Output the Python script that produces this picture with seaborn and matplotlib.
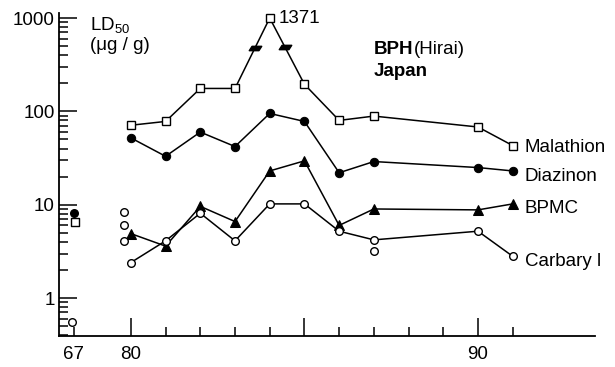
import numpy as np
import pandas as pd
import matplotlib
matplotlib.use("Agg")
import matplotlib.pyplot as plt
import seaborn as sns
from matplotlib.path import Path
from matplotlib.ticker import FixedLocator, LogLocator, NullFormatter

# ---------------- data (LD50, ug/g) ----------------
years = [80, 81, 82, 83, 84, 85, 86, 87, 90, 91]
malathion = [71, 78, 176, 176, 1371, 195, 80, 89, 68, 43]
diazinon = [52, 33, 60, 42, 95, 78, 22, 29, 25, 23]
bpmc = [4.9, 3.6, 9.6, 6.6, 23, 29.5, 6.0, 9.0, 8.8, 10.2]
carbaryl = [2.4, 4.1, 8.1, 4.1, 10.2, 10.2, 5.2, 4.2, 5.2, 2.8]

# 1967 single observations
y67_diazinon = [8.1]
y67_malathion = [6.6]
y67_carbaryl = [0.55]
# additional carbaryl observations
extra80_carbaryl = [8.4, 6.0, 4.1]
extra87_carbaryl = [3.2]

series_names = ["Malathion", "Diazinon", "BPMC", "Carbary l"]

# ---------------- layout constants ----------------
Y_CAP = 1000          # axis break: values above are drawn at the cap
POS_67 = 78.35        # compressed position of 1967 on the broken axis
OFF_80 = -0.2         # small side offset for the extra 1980 points

sns.set_style("white")
plt.rcParams["font.family"] = ["Liberation Sans", "DejaVu Sans"]
plt.rcParams["mathtext.default"] = "regular"
plt.rcParams["text.color"] = "black"
plt.rcParams["xtick.color"] = "black"
plt.rcParams["ytick.color"] = "black"
FS = 13.5

fig = plt.figure(figsize=(6.15, 3.67), dpi=100)
ax = fig.add_axes([59 / 615, 31 / 367, 536 / 615, 323 / 367])

mal_plot = np.minimum(malathion, Y_CAP)
lw = 1.1
ms = 5.5

sns.lineplot(x=years, y=mal_plot, ax=ax, color="black", lw=lw, marker="s",
             markersize=ms, markerfacecolor="white", markeredgecolor="black",
             markeredgewidth=1, zorder=3)
sns.lineplot(x=years, y=diazinon, ax=ax, color="black", lw=lw, marker="o",
             markersize=ms + 0.5, markerfacecolor="black", markeredgecolor="black",
             zorder=3)
sns.lineplot(x=years, y=bpmc, ax=ax, color="black", lw=lw, marker="^",
             markersize=ms + 1, markerfacecolor="black", markeredgecolor="black",
             zorder=3)
sns.lineplot(x=years, y=carbaryl, ax=ax, color="black", lw=lw, marker="o",
             markersize=ms, markerfacecolor="white", markeredgecolor="black",
             markeredgewidth=1, zorder=4)

# isolated points
sc = dict(ax=ax, s=30, linewidth=1, edgecolor="black", zorder=5)
sns.scatterplot(x=[POS_67], y=y67_diazinon, marker="o", color="black", **sc)
sns.scatterplot(x=[POS_67 + 0.03], y=y67_malathion, marker="s", color="white", **sc)
sns.scatterplot(x=[POS_67 - 0.05], y=y67_carbaryl, marker="o", color="white", **sc)
sns.scatterplot(x=[80 + OFF_80] * len(extra80_carbaryl), y=extra80_carbaryl,
                marker="o", color="white", **sc)
sns.scatterplot(x=[87] * len(extra87_carbaryl), y=extra87_carbaryl,
                marker="o", color="white", **sc)

# axis-break marks on the Malathion peak segments
brk = Path([(-1, -0.35), (0.55, -0.35), (1, 0.35), (-0.55, 0.35), (-1, -0.35)],
           [Path.MOVETO, Path.LINETO, Path.LINETO, Path.LINETO, Path.CLOSEPOLY])
ipk = int(np.argmax(malathion))
t = 0.57
for j in (ipk - 1, ipk + 1):
    xb = years[j] + t * (years[ipk] - years[j])
    yb = 10 ** (np.log10(mal_plot[j]) + t * (np.log10(mal_plot[ipk]) - np.log10(mal_plot[j])))
    ax.plot([xb], [yb], marker=brk, markersize=9, color="black", zorder=6)

ax.annotate(str(malathion[ipk]), xy=(years[ipk], mal_plot[ipk]), xytext=(6.5, 0),
            textcoords="offset points", ha="left", va="center", fontsize=FS)

# series labels
offs = [-1.5, -4, -3.5, -3.5]
for name, vals, dy in zip(series_names, [mal_plot, diazinon, bpmc, carbaryl], offs):
    ax.annotate(name, xy=(years[-1], vals[-1]), xytext=(8.5, dy),
                textcoords="offset points", ha="left", va="center", fontsize=FS)

# axes
ax.set_yscale("log")
ax.set_xlim(77.93, 93.37)
ax.set_ylim(0.392, 1132)
ax.yaxis.set_major_locator(FixedLocator([1, 10, 100, 1000]))
ax.set_yticklabels(["1", "10", "100", "1000"])
ax.yaxis.set_minor_locator(LogLocator(base=10, subs=np.arange(2, 10)))
ax.yaxis.set_minor_formatter(NullFormatter())

major_x = [80, 85, 90]
minor_x = [POS_67] + [y for y in range(81, 92) if y not in major_x]
ax.set_xticks(major_x)
ax.set_xticklabels(["80", "", "90"])
ax.set_xticks(minor_x, minor=True)
ax.set_xticklabels(["67"] + [""] * (len(minor_x) - 1), minor=True)

ax.tick_params(axis="both", which="both", direction="in", width=1.1,
               colors="black", labelsize=FS, bottom=True, left=True,
               top=False, right=False)
ax.tick_params(axis="both", which="major", length=13)
ax.tick_params(axis="both", which="minor", length=6.5)
ax.tick_params(axis="x", which="both", pad=7)
ax.tick_params(axis="y", which="both", pad=3)

for s in ["top", "right"]:
    ax.spines[s].set_visible(False)
for s in ["left", "bottom"]:
    ax.spines[s].set_linewidth(1.3)
    ax.spines[s].set_color("black")
ax.grid(False)

# texts
def ft(xp, yp, s, **kw):
    return fig.text(xp / 615, 1 - yp / 367, s, ha="left", va="center",
                    fontsize=FS, color="black", **kw)

ft(90, 25, "LD$_{50}$")
ft(90, 46, "(\u03bcg / g)")
bph = ft(374, 50, "BPH", fontweight="bold")
fig.text(0, 0, "")
ax.annotate("(Hirai)", xy=(1, 0.5), xycoords=bph, xytext=(0.5, 0),
            textcoords="offset points", ha="left", va="center", fontsize=FS,
            color="black", annotation_clip=False)
ft(374, 71, "Japan", fontweight="bold")

fig.savefig("out.png", dpi=100)
